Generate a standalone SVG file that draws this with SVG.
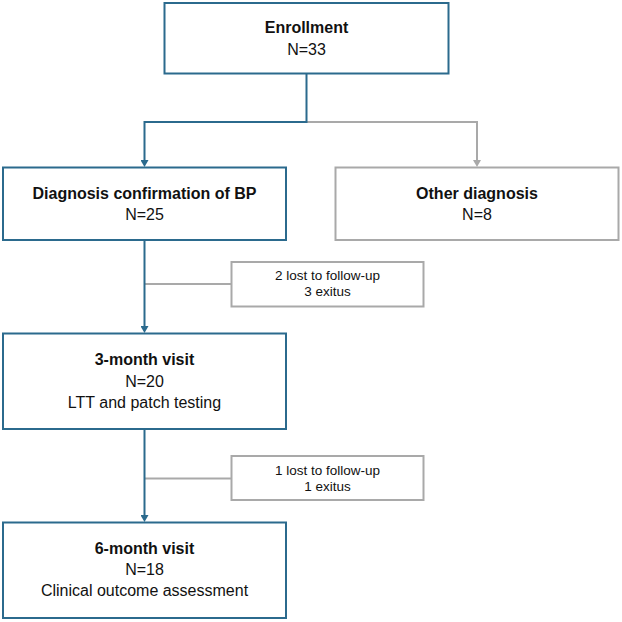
<svg xmlns="http://www.w3.org/2000/svg" width="622" height="622" viewBox="0 0 622 622">
  <style>
    .box { fill: #ffffff; stroke-width: 2; }
    .blue { stroke: #2b6a8d; }
    .gray { stroke: #a9a9a9; }
    .t { font-family: "Liberation Sans", Arial, sans-serif; fill: #111111; text-anchor: middle; }
    .b { font-size: 16px; font-weight: bold; }
    .r { font-size: 16px; }
    .s { font-size: 13.5px; }
    .conn { fill: none; stroke-width: 2; }
  </style>
  <defs>
    <marker id="arrBlue" markerUnits="userSpaceOnUse" markerWidth="8" markerHeight="8" viewBox="0 0 7 8" refX="2" refY="4" orient="auto">
      <path d="M0 0 L7 4 L0 8 Z" fill="#2b6a8d"/>
    </marker>
    <marker id="arrGray" markerUnits="userSpaceOnUse" markerWidth="8" markerHeight="8" viewBox="0 0 7 8" refX="2" refY="4" orient="auto">
      <path d="M0 0 L7 4 L0 8 Z" fill="#a9a9a9"/>
    </marker>
  </defs>
  <rect width="622" height="622" fill="#ffffff"/>

  <g id="connectors">
    <path class="conn gray" d="M306.5 122 H477 V162" marker-end="url(#arrGray)"/>
    <path class="conn blue" d="M306.5 74 V122 H144.5 V162" marker-end="url(#arrBlue)"/>
    <path class="conn gray" d="M144.5 284 H231.5"/>
    <path class="conn blue" d="M144.5 240 V328" marker-end="url(#arrBlue)"/>
    <path class="conn gray" d="M144.5 478.5 H231.5"/>
    <path class="conn blue" d="M144.5 429 V517" marker-end="url(#arrBlue)"/>
  </g>

  <g id="enrollment">
    <rect class="box blue" x="164.5" y="3" width="284" height="70.5"/>
    <text class="t b" x="306.5" y="33">Enrollment</text>
    <text class="t r" x="306.5" y="54.5">N=33</text>
  </g>

  <g id="diagnosis">
    <rect class="box blue" x="3" y="167.5" width="283" height="72.5"/>
    <text class="t b" x="144.5" y="198.5">Diagnosis confirmation of BP</text>
    <text class="t r" x="144.5" y="220">N=25</text>
  </g>

  <g id="other">
    <rect class="box gray" x="335.5" y="167.5" width="283" height="72.5"/>
    <text class="t b" x="477" y="199">Other diagnosis</text>
    <text class="t r" x="477" y="220">N=8</text>
  </g>

  <g id="loss1">
    <rect class="box gray" x="231.5" y="262" width="192" height="44.5"/>
    <text class="t s" x="327.5" y="280">2 lost to follow-up</text>
    <text class="t s" x="327.5" y="295.5">3 exitus</text>
  </g>

  <g id="month3">
    <rect class="box blue" x="3" y="333.5" width="283" height="95.5"/>
    <text class="t b" x="144.5" y="365">3-month visit</text>
    <text class="t r" x="144.5" y="386.5">N=20</text>
    <text class="t r" x="144.5" y="407.5">LTT and patch testing</text>
  </g>

  <g id="loss2">
    <rect class="box gray" x="231.5" y="456" width="192" height="44"/>
    <text class="t s" x="327.5" y="475">1 lost to follow-up</text>
    <text class="t s" x="327.5" y="490.5">1 exitus</text>
  </g>

  <g id="month6">
    <rect class="box blue" x="3" y="522.5" width="283" height="95.5"/>
    <text class="t b" x="144.5" y="553.5">6-month visit</text>
    <text class="t r" x="144.5" y="575">N=18</text>
    <text class="t r" x="144.5" y="596">Clinical outcome assessment</text>
  </g>
</svg>
